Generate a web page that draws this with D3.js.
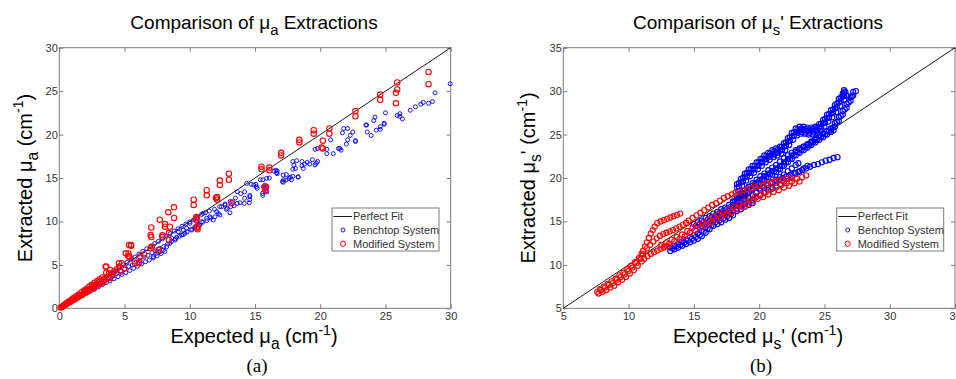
<!DOCTYPE html>
<html><head><meta charset="utf-8">
<script src="https://cdn.jsdelivr.net/npm/d3@7"></script>
<style>body{margin:0;background:#fff}svg{display:block}</style>
</head><body>
<svg id="c" width="956" height="379"></svg>
<script>
// ---------- DATA ----------
const ticksA = [0,5,10,15,20,25,30];
const ticksB = [5,10,15,20,25,30,35];
const legendLabels = ["Perfect Fit","Benchtop System","Modified System"];
const perfectA = [[0,0],[30,30]];
const perfectB = [[5,5],[35,35]];

// Panel (a): mu_a, Benchtop
const muaBenchtop = [
[0.3,0.25],[0.6,0.5],[0.9,0.75],[1.2,1.0],[1.5,1.25],[1.8,1.5],[2.1,1.75],[2.4,2.0],[2.7,2.2],[3.0,2.45],[3.3,2.7],[3.6,2.95],[3.9,3.15],[4.2,3.4],[4.5,3.65],[4.8,3.9],[5.1,4.1],[5.4,4.35],[5.7,4.6],[6.0,4.85],[6.3,5.1],[6.6,5.35],[6.9,5.55],[7.2,5.8],[7.5,6.05],[7.8,6.3],[8.1,6.55],
[1.6,1.6],[1.9,1.9],[2.2,2.2],[2.5,2.55],[2.8,2.85],[3.1,3.15],[3.4,3.45],[3.7,3.75],[4.0,4.05],[4.3,4.35],[4.6,4.7],[4.9,5.0],[5.2,5.3],[5.5,5.65],[5.8,5.9],[6.1,6.25],[6.4,6.55],[6.7,6.85],[7.0,7.1],[7.3,7.45],[7.6,7.7],[7.9,8.0],[8.2,8.3],[8.5,8.6],[8.8,8.9],[9.1,9.15],[9.4,9.45],[9.7,9.7],[10.0,9.95],[10.3,10.2],[10.6,10.5],[10.9,10.8],[11.2,11.0],[11.5,11.2],[11.9,11.4],[12.3,11.7],[12.7,12.0],[13.1,12.3],[13.5,12.7],[13.9,13.2],[14.2,13.4],
[2.0,1.85],[2.6,2.35],[3.2,2.9],[3.8,3.45],[4.4,4.0],[5.0,4.5],[5.6,5.0],[6.2,5.5],[6.8,6.1],[7.4,6.6],[8.0,7.1],[8.6,7.7],[9.2,8.3],[9.8,8.8],[10.4,9.3],[11.0,9.9],[11.6,10.4],[12.2,10.9],[12.8,11.4],[13.4,11.8],
[3.5,3.2],[4.1,3.7],[4.7,4.3],[5.3,4.8],[5.9,5.3],[6.5,5.9],[7.1,6.4],[7.7,6.9],[8.3,7.4],[8.9,8.0],[9.5,8.5],[10.1,9.1],[10.7,9.6],[11.3,10.1],
[18.19,16.99],[17.98,16.49],[18.31,15.14],[17.16,15.34],[17.37,14.76],[17.62,14.96],[17.16,14.5],[16.66,15.6],[16.45,15.8],[15.89,14.96],[15.76,14.19],[15.63,13.99],[15.58,13.23],[15.07,14.27],[15.17,13.81],[14.71,14.27],[14.36,14.38],[14.61,12.84],[14.56,12.15],[14.2,12.66],[14.18,12.08],[13.85,12.15],[13.64,13.42],[13.64,12.08],[13.29,12.27],[13.13,11.69],[13.08,11.0],[12.87,11.51],[12.7,11.89],[12.44,11.69],[12.31,10.74],[12.06,11.12],[11.93,10.54],[11.8,10.16],[11.55,10.54],[11.29,10.36],[11.03,10.93],[10.91,9.97],[10.78,9.59],[10.53,9.97],[10.4,9.39],[10.15,9.01],[10.02,9.78],[9.76,9.21],[9.63,8.63],[9.5,9.01],[9.38,8.43],[9.12,8.81],[9.0,8.17],[8.87,7.86],[8.61,8.06],[8.48,7.48],[8.23,7.09],[7.97,6.71],[7.72,6.51],[7.46,6.33],[7.2,5.94],
[29.96,25.85],[28.8,24.8],[28.6,23.8],[28.3,23.6],[27.9,23.7],[27.7,23.5],[27.3,23.2],[26.9,22.8],[26.1,22.4],[26.3,21.8],[25.9,22.2],[26.1,22.1],[25.0,22.5],[24.9,21.3],[24.6,20.6],[24.9,21.2],[24.6,20.9],[24.2,22.0],[24.1,21.6],[23.9,19.9],[23.6,20.3],[23.5,21.1],[22.5,20.3],[22.3,19.9],[22.1,19.4],[22.0,18.9],[21.8,20.7],[21.7,20.2],[22.7,19.3],[22.7,19.2],[21.6,18.2],[21.4,18.4],[21.0,17.8],[20.8,19.4],[20.5,18.3],[20.5,17.8],[19.6,18.3],[19.8,16.9],[19.6,16.5],[19.4,17.1],[19.2,16.6],[19.0,16.8],[18.8,16.6],[18.7,16.1],[18.6,16.4],[18.3,15.1],[18.1,16.1],[17.9,16.0],[17.9,16.9],[17.7,15.1],[17.4,15.4],[17.2,14.8],[17.1,14.6],[17.8,14.8],[16.7,15.8],[16.6,15.9],[16.1,15.0],[15.9,14.0],[15.9,13.4],[15.6,14.8],[15.6,13.0],[15.8,13.7],[15.1,14.0],[14.6,13.0],[14.6,12.5],
[23.55,21.1],[24.3,20.5],[21.5,18.4],[22.1,20.7],[19.8,18.4],[19.7,16.7],[18.6,16.9],[17.9,15.2],[16.7,15.5],[15.4,14.8],[14.9,14.2]
];
// Panel (a): mu_a, Modified
const muaModified = [
[0.1,0.1],[0.3,0.3],[0.5,0.55],[0.7,0.75],[0.9,0.95],[1.1,1.2],[1.3,1.4],[1.5,1.6],[1.7,1.85],[1.9,2.05],[2.1,2.25],[2.3,2.5],[2.5,2.7],[2.7,2.95],[2.9,3.15],[3.1,3.35],[3.3,3.55],
[0.2,0.15],[0.4,0.35],[0.6,0.55],[0.8,0.7],[1.0,0.9],[1.2,1.05],[1.4,1.25],[1.6,1.45],[1.8,1.6],[2.0,1.8],[2.2,1.95],[2.4,2.15],[2.6,2.3],[2.8,2.5],[3.0,2.7],[3.2,2.9],[3.4,3.05],
[0.5,0.45],[1.0,1.0],[1.5,1.5],[2.0,2.0],[2.5,2.5],[3.0,3.0],[3.5,3.4],[3.7,3.6],[3.4,3.3],[3.9,3.5],[2.8,2.7],[2.2,2.15],
[3.55,4.79],[4.57,5.18],[4.19,4.21],[3.8,4.03],[4.7,4.2],[5.34,5.95],[5.34,7.28],[5.09,6.33],[7.0,8.43],[7.64,6.71],[6.1,5.18],[8.4,7.86],[8.4,8.66],
[28.3,27.2],[28.3,25.8],[25.9,26.0],[25.9,25.2],[25.8,24.8],[25.8,23.6],[24.6,24.6],[24.6,24.0],[22.7,22.7],[22.7,22.1],[20.7,20.7],[20.7,20.1],[20.2,19.3],[20.2,18.4],[20.1,18.5],[19.5,20.5],[19.5,20.1],[18.4,19.4],[18.4,19.1],[17.0,17.9],[17.0,17.6],[16.1,16.2],[16.1,15.9],[15.5,16.3],[15.5,16.0],[15.8,13.9],[15.8,13.6],[13.0,15.5],[13.0,14.8],[12.3,14.7],[12.3,14.2],[12.1,12.8],[12.1,12.5],[12.0,12.7],[11.3,13.6],[11.3,13.0],[10.3,12.5],[10.3,11.9],[10.5,10.5],[10.5,10.2],[10.6,9.4],[10.6,9.1],[8.35,11.05],[8.8,10.4],[8.79,11.62],[7.7,10.2],[8.1,9.7],[8.1,9.4],[7.05,9.3],[7.05,8.2],[7.9,8.4],[7.9,8.2],[7.1,7.1],[7.0,6.9],[7.6,6.7],[5.5,7.3],[5.5,7.2],[5.3,6.3],[5.4,5.9],[5.8,5.2],[6.1,5.3],[4.6,4.8],[4.8,5.2],[3.6,4.8],[3.9,4.4],[3.6,4.1],[4.0,3.9],[4.4,4.5],[5.0,4.6],[5.3,6.0],[6.2,6.0],[6.5,6.2],[10.53,10.36],[10.53,9.27],[8.48,9.39],[13.2,12.1],[15.84,14.0]
];
// Panel (b): mu_s', Benchtop
const musBenchtop = [
// lowest band
[13.2,11.6],[13.2,12.0],[13.5,11.8],[13.5,12.2],[13.8,12.0],[13.8,12.4],[14.1,12.2],[14.1,12.7],[14.4,12.4],[14.4,12.9],[14.7,12.6],[14.7,13.2],[15.0,12.8],[15.0,13.4],[15.3,13.0],[15.3,13.6],[15.6,13.3],[15.6,13.9],[15.9,13.7],[15.9,14.3],[16.2,14.1],[16.2,14.7],[16.5,14.5],[16.5,15.1],[16.8,14.7],[16.8,15.3],[17.1,14.9],[17.1,15.5],[17.4,15.2],[17.4,15.8],[17.7,15.4],[17.7,16.0],[18.0,15.7],[18.0,16.3],[18.3,16.2],[18.6,16.4],[18.9,16.7],[19.2,16.9],[19.5,17.1],
[13.35,11.9],[13.65,12.1],[13.95,12.3],[14.25,12.55],[14.55,12.8],[14.85,13.0],[15.15,13.2],[15.45,13.45],[15.75,13.8],[16.05,14.2],[16.35,14.6],[16.65,14.9],[16.95,15.1],[17.25,15.35],[17.55,15.6],[17.85,15.85],
// upper twisting band
[18.3,18.9],[18.6,19.5],[18.9,20.1],[19.2,20.6],[19.5,21.0],[19.8,21.4],[20.1,21.8],[20.4,22.2],[20.7,22.5],[21.0,22.8],[21.3,23.0],[21.6,23.2],[21.9,23.6],[22.2,24.2],[22.5,24.8],[22.8,25.3],[23.1,25.5],[23.4,25.5],[23.7,25.4],[24.0,25.4],[24.3,25.5],[24.6,25.8],[24.9,26.3],[25.2,26.9],[25.5,27.4],[25.8,28.0],[26.1,28.7],[26.4,29.4],[26.6,29.9],
[18.3,19.3],[18.6,19.9],[18.9,20.5],[19.2,21.0],[19.5,21.4],[19.8,21.8],[20.1,22.2],[20.4,22.6],[20.7,22.9],[21.0,23.2],[21.3,23.4],[21.6,23.6],[21.9,24.0],[22.2,24.6],[22.5,25.2],[22.8,25.7],[23.1,25.9],[23.4,25.9],[23.7,25.8],[24.0,25.8],[24.3,25.9],[24.6,26.2],[24.9,26.7],[25.2,27.3],[25.5,27.8],[25.8,28.4],[26.1,29.1],[26.4,29.7],[26.5,30.1],
[18.4,18.5],[18.7,19.1],[19.0,19.7],[19.3,20.2],[19.6,20.6],[19.9,21.0],[20.2,21.4],[20.5,21.8],[20.8,22.1],[21.1,22.4],[21.4,22.6],[21.7,22.8],[22.0,23.2],[22.3,23.8],[22.6,24.4],[22.9,24.9],[23.2,25.1],[23.5,25.1],[23.8,25.0],[24.1,25.0],[24.4,25.1],[24.7,25.4],[25.0,25.9],[25.3,26.5],[25.6,27.0],[25.9,27.6],[26.2,28.3],[26.5,29.0],[26.7,29.5],
[18.45,19.4],[18.75,20.0],[19.05,20.55],[19.35,21.0],[19.65,21.4],[19.95,21.8],[20.25,22.2],[20.55,22.55],[20.85,22.85],[21.15,23.1],[21.45,23.3],[21.75,23.6],[22.05,24.1],[22.35,24.7],[22.65,25.25],[22.95,25.6],[23.25,25.7],[23.55,25.65],[23.85,25.6],[24.15,25.65],[24.45,25.85],[24.75,26.25],[25.05,26.8],[25.35,27.35],[25.65,27.9],[25.95,28.55],[26.25,29.25],[26.5,29.85],
[18.45,19.0],[18.75,19.6],[19.05,20.15],[19.35,20.6],[19.65,21.0],[19.95,21.4],[20.25,21.8],[20.55,22.15],[20.85,22.45],[21.15,22.7],[21.45,22.9],[21.75,23.2],[22.05,23.7],[22.35,24.3],[22.65,24.85],[22.95,25.2],[23.25,25.3],[23.55,25.25],[23.85,25.2],[24.15,25.25],[24.45,25.45],[24.75,25.85],[25.05,26.4],[25.35,26.95],[25.65,27.5],[25.95,28.15],[26.25,28.85],[26.5,29.45],
// second long band
[18.0,16.9],[18.3,17.3],[18.6,17.6],[18.9,17.9],[19.2,18.3],[19.5,18.7],[19.8,19.0],[20.1,19.4],[20.4,19.8],[20.7,20.1],[21.0,20.4],[21.3,20.7],[21.6,21.0],[21.9,21.4],[22.2,21.8],[22.5,22.2],[22.8,22.6],[23.1,22.9],[23.4,23.2],[23.7,23.5],[24.0,23.8],[24.3,24.1],[24.6,24.4],[24.9,24.7],[25.2,25.0],[25.5,25.3],[25.8,25.9],[26.1,26.6],[26.4,27.3],[26.7,28.1],[27.0,28.9],[27.2,29.5],[27.4,30.0],
[18.0,17.3],[18.3,17.7],[18.6,18.0],[18.9,18.3],[19.2,18.7],[19.5,19.1],[19.8,19.4],[20.1,19.8],[20.4,20.2],[20.7,20.5],[21.0,20.8],[21.3,21.1],[21.6,21.4],[21.9,21.8],[22.2,22.2],[22.5,22.6],[22.8,23.0],[23.1,23.3],[23.4,23.6],[23.7,23.9],[24.0,24.2],[24.3,24.5],[24.6,24.8],[24.9,25.1],[25.2,25.4],[25.5,25.7],[25.8,26.3],[26.1,27.0],[26.4,27.7],[26.7,28.5],[27.0,29.3],[27.2,29.9],
[18.15,17.3],[18.45,17.65],[18.75,17.95],[19.05,18.3],[19.35,18.7],[19.65,19.05],[19.95,19.4],[20.25,19.8],[20.55,20.15],[20.85,20.45],[21.15,20.75],[21.45,21.05],[21.75,21.4],[22.05,21.8],[22.35,22.2],[22.65,22.6],[22.95,22.95],[23.25,23.25],[23.55,23.55],[23.85,23.85],[24.15,24.15],[24.45,24.45],[24.75,24.75],[25.05,25.05],[25.35,25.35],[25.65,25.8],[25.95,26.45],[26.25,27.15],[26.55,27.9],[26.85,28.7],[27.1,29.4],
// third strand
[18.6,18.2],[18.9,18.6],[19.2,19.0],[19.5,19.4],[19.8,19.8],[20.1,20.2],[20.4,20.5],[20.7,20.9],[21.0,21.2],[21.3,21.5],[21.6,21.9],[21.9,22.3],[22.2,22.6],[22.5,22.9],[22.8,23.2],[23.1,23.4],[23.4,23.6],[23.7,23.8],[24.0,24.1],[24.3,24.4],[24.6,24.8],[24.9,25.1],[25.2,25.4],[25.5,25.6],[25.7,25.5],
// shorter strands
[17.4,16.1],[17.7,16.4],[18.0,16.6],[18.3,16.9],[18.6,17.2],[18.9,17.5],[19.2,17.7],[19.5,18.0],[19.8,18.3],[20.1,18.6],[20.4,18.9],[20.7,19.2],[21.0,19.5],[21.3,19.8],[21.6,20.1],[21.9,20.4],[22.2,20.8],[22.5,21.1],[22.8,21.5],[23.0,21.7],
[18.0,16.3],[18.3,16.5],[18.6,16.8],[18.9,17.0],[19.2,17.3],[19.5,17.5],[19.8,17.8],[20.1,18.0],[20.4,18.3],[20.7,18.6],[21.0,18.8],[21.3,19.1],[21.6,19.3],[21.9,19.6],[22.2,19.9],[22.5,20.2],[22.8,20.5],[23.1,20.8],[23.4,21.1],[23.7,21.4],
[20.0,18.8],[20.3,19.0],[20.6,19.2],[20.9,19.4],[21.2,19.6],[21.5,19.8],[21.8,20.0],[22.1,20.2],[22.4,20.4],[22.7,20.6],[23.0,20.7],[23.3,20.9],[23.6,21.1],[23.9,21.3],[24.2,21.5],[24.5,21.6],[24.8,21.8],[25.1,22.0],[25.4,22.1],[25.7,22.3],[26.0,22.4],
// middle mass
[15.0,14.7],[15.3,14.9],[15.6,15.1],[15.9,15.4],[16.2,15.6],[16.5,15.9],[16.8,16.1],[17.1,16.4],[17.4,16.6],[17.7,16.9],[18.0,17.2],[18.3,17.5],[18.6,17.8],[18.9,18.1],
[15.6,14.5],[15.9,14.7],[16.2,15.0],[16.5,15.2],[16.8,15.5],[17.1,15.8],[17.4,16.0],[17.7,16.2],
[15.15,14.5],[15.45,14.7],[15.75,14.95],[16.05,15.2],[16.35,15.45],[16.65,15.7],[16.95,15.95],[17.25,16.2],[17.55,16.45],[17.85,16.7],[18.15,16.95],[18.45,17.25],[18.75,17.55]
];
// Panel (b): mu_s', Modified
const musModified = [
[7.6,6.9],[7.9,7.1],[8.2,7.4],[8.5,7.7],[8.8,7.9],[9.1,8.3],[9.4,8.6],[9.7,8.9],[10.0,9.3],[10.3,9.7],[10.6,10.2],[10.9,10.7],[11.1,11.2],
[7.7,6.7],[8.0,6.9],[8.3,7.1],[8.6,7.4],[8.9,7.6],[9.2,8.0],[9.5,8.3],[9.8,8.6],[10.1,9.0],[10.4,9.4],[10.7,9.9],[11.0,10.4],
[7.8,7.2],[8.1,7.5],[8.4,7.8],[8.7,8.1],[9.0,8.4],[9.3,8.8],[9.6,9.1],[9.9,9.5],[10.2,9.9],[10.5,10.3],[10.8,10.8],[11.0,11.3],
[11.1,11.6],[11.25,12.1],[11.4,12.6],[11.55,13.1],[11.7,13.6],[11.85,14.0],[12.0,14.4],[12.2,14.8],[12.45,15.0],[12.7,15.15],[12.95,15.3],[13.2,15.45],[13.45,15.6],[13.7,15.75],[13.95,15.9],
[11.4,11.9],[11.65,12.3],[11.9,12.7],[12.15,13.05],[12.4,13.35],[12.65,13.55],[12.9,13.7],[13.15,13.85],[13.4,14.0],[13.65,14.2],[13.9,14.4],[14.15,14.6],[14.4,14.85],
[11.2,10.7],[11.45,11.0],[11.7,11.25],[11.95,11.45],[12.2,11.65],[12.45,11.85],[12.7,12.0],[12.95,12.15],
[12.5,12.3],[12.9,12.6],[13.3,12.9],[13.7,13.2],[14.1,13.5],[14.5,13.9],[14.9,14.3],[15.3,14.6],[15.7,14.9],[16.1,15.2],[16.5,15.5],[16.9,15.8],[17.3,16.1],[17.7,16.4],[18.1,16.7],[18.5,17.0],[18.9,17.3],[19.3,17.6],[19.7,17.9],[20.1,18.1],[20.5,18.4],[20.9,18.7],[21.3,18.9],[21.7,19.2],[22.1,19.4],[22.5,19.6],[22.9,19.9],[23.3,20.1],[23.6,20.3],
[12.7,12.1],[13.1,12.4],[13.5,12.7],[13.9,13.0],[14.3,13.3],[14.7,13.7],[15.1,14.0],[15.5,14.3],[15.9,14.6],[16.3,14.9],[16.7,15.2],[17.1,15.5],[17.5,15.8],[17.9,16.1],[18.3,16.4],[18.7,16.7],[19.1,17.0],[19.5,17.3],[19.9,17.6],[20.3,17.8],[20.7,18.1],[21.1,18.4],[21.5,18.6],[21.9,18.9],[22.3,19.1],[22.7,19.4],[23.1,19.6],
[14.6,15.1],[14.9,15.4],[15.2,15.7],[15.5,16.0],[15.8,16.3],[16.1,16.6],[16.4,16.9],[16.7,17.1],[17.0,17.4],[17.3,17.7],[17.6,17.9],[17.9,18.1],[18.2,18.3],[18.5,18.4],[18.8,18.6],[19.1,18.7],[19.4,18.8],[19.7,19.0],[20.0,19.1],[20.3,19.2],[20.6,19.4],[20.9,19.5],[21.2,19.6],[21.5,19.7],[21.8,19.8],[22.1,19.9],[22.4,20.0]
];

// ---------- DRAWING ----------
const svg = d3.select("#c");
const FONT = '"Liberation Sans", Arial, Helvetica, sans-serif';
const TOP = 47.7, BOT = 308.3;

function richText(sel, parts, size) {
  let shift = 0;
  parts.forEach(([t, m]) => {
    let target = 0, fs = size;
    if (m === 'sub') { target = size * 0.32; fs = size * 0.78; }
    if (m === 'sup') { target = -size * 0.42; fs = size * 0.7; }
    sel.append("tspan").attr("dy", target - shift).attr("font-size", fs).text(t);
    shift = target;
  });
}

function panel(cfg) {
  const g = svg.append("g");
  const x = d3.scaleLinear().domain(cfg.dom).range([cfg.x0, cfg.x1]);
  const y = d3.scaleLinear().domain(cfg.dom).range([BOT, TOP]);
  const ax = s => {
    s.select(".domain").remove();
    s.selectAll(".tick line").attr("stroke", "#7a7a7a");
    s.selectAll(".tick text").attr("fill", "#333").style("font-family", FONT).style("font-size", "11px");
  };
  g.append("g").attr("transform", `translate(0,${BOT})`)
    .call(d3.axisBottom(x).tickValues(cfg.ticks).tickSize(-4).tickPadding(4)).call(ax);
  g.append("g").attr("transform", `translate(0,${TOP})`)
    .call(d3.axisTop(x).tickValues(cfg.ticks).tickSize(-4).tickFormat("")).call(ax);
  g.append("g").attr("transform", `translate(${cfg.x0},0)`)
    .call(d3.axisLeft(y).tickValues(cfg.ticks).tickSize(-4).tickPadding(1.5)).call(ax);
  g.append("g").attr("transform", `translate(${cfg.x1},0)`)
    .call(d3.axisRight(y).tickValues(cfg.ticks).tickSize(-4).tickFormat("")).call(ax);
  g.append("rect").attr("x", cfg.x0).attr("y", TOP).attr("width", cfg.x1 - cfg.x0)
    .attr("height", BOT - TOP).attr("fill", "none").attr("stroke", "#7a7a7a").attr("stroke-width", 1);

  g.append("path").datum(cfg.fit)
    .attr("d", d3.line().x(d => x(d[0])).y(d => y(d[1])))
    .attr("stroke", "#000").attr("stroke-width", 0.9).attr("fill", "none");

  g.append("g").selectAll("circle").data(cfg.blue).join("circle")
    .attr("cx", d => x(d[0])).attr("cy", d => y(d[1])).attr("r", cfg.rb)
    .attr("fill", "none").attr("stroke", "#0000ff").attr("stroke-width", cfg.swb);
  g.append("g").selectAll("circle").data(cfg.red).join("circle")
    .attr("cx", d => x(d[0])).attr("cy", d => y(d[1])).attr("r", cfg.rr)
    .attr("fill", "none").attr("stroke", "#ff0000").attr("stroke-width", 1.1);

  const lg = g.append("g");
  lg.append("rect").attr("x", cfg.lx).attr("y", 208).attr("width", 107).attr("height", 43)
    .attr("fill", "#fff").attr("stroke", "#7a7a7a");
  lg.append("line").attr("x1", cfg.lx + 1.5).attr("x2", cfg.lx + 20).attr("y1", 216.5).attr("y2", 216.5)
    .attr("stroke", "#000").attr("stroke-width", 0.9);
  lg.append("circle").attr("cx", cfg.lx + 11).attr("cy", 230).attr("r", 2)
    .attr("fill", "none").attr("stroke", "#0000ff").attr("stroke-width", 0.9);
  lg.append("circle").attr("cx", cfg.lx + 11).attr("cy", 243.7).attr("r", 2.6)
    .attr("fill", "none").attr("stroke", "#ff0000").attr("stroke-width", 1);
  legendLabels.forEach((t, i) => {
    lg.append("text").attr("x", cfg.lx + 21).attr("y", 216.5 + i * 13.6).attr("dy", "0.35em")
      .attr("fill", "#333").style("font-family", FONT).style("font-size", "11px").text(t);
  });

  const tt = svg.append("text").attr("x", cfg.cx).attr("y", 29).attr("text-anchor", "middle")
    .attr("fill", "#000").style("font-family", FONT).style("font-size", "19px");
  richText(tt, cfg.title, 19);
  const xl = svg.append("text").attr("x", cfg.cx).attr("y", 343).attr("text-anchor", "middle")
    .attr("fill", "#000").style("font-family", FONT).style("font-size", "20px");
  richText(xl, cfg.xlab, 20);
  const yl = svg.append("text").attr("transform", `translate(${cfg.ylx},178) rotate(-90)`).attr("text-anchor", "middle")
    .attr("fill", "#000").style("font-family", FONT).style("font-size", "20px");
  richText(yl, cfg.ylab, 20);
  svg.append("text").attr("x", cfg.cx + 3).attr("y", 372).attr("text-anchor", "middle")
    .attr("fill", "#000").style("font-family", '"Liberation Serif", "Times New Roman", serif').style("font-size", "19px")
    .text(cfg.tag);
}

panel({
  dom: [0, 30], ticks: ticksA, x0: 59.3, x1: 450.7, fit: perfectA,
  blue: muaBenchtop, red: muaModified, rb: 2, swb: 0.9, rr: 2.7, lx: 332, cx: 254, ylx: 31.5, tag: "(a)",
  title: [["Comparison of μ", "n"], ["a", "sub"], [" Extractions", "n"]],
  xlab: [["Expected μ", "n"], ["a", "sub"], [" (cm", "n"], ["-1", "sup"], [")", "n"]],
  ylab: [["Extracted μ", "n"], ["a", "sub"], [" (cm", "n"], ["-1", "sup"], [")", "n"]]
});
panel({
  dom: [5, 35], ticks: ticksB, x0: 563.3, x1: 955, fit: perfectB,
  blue: musBenchtop, red: musModified, rb: 2.6, swb: 1.1, rr: 2.6, lx: 836.7, cx: 758, ylx: 535, tag: "(b)",
  title: [["Comparison of μ", "n"], ["s", "sub"], ["' Extractions", "n"]],
  xlab: [["Expected μ", "n"], ["s", "sub"], ["' (cm", "n"], ["-1", "sup"], [")", "n"]],
  ylab: [["Extracted μ", "n"], ["s", "sub"], ["' (cm", "n"], ["-1", "sup"], [")", "n"]]
});
</script>
</body></html>
